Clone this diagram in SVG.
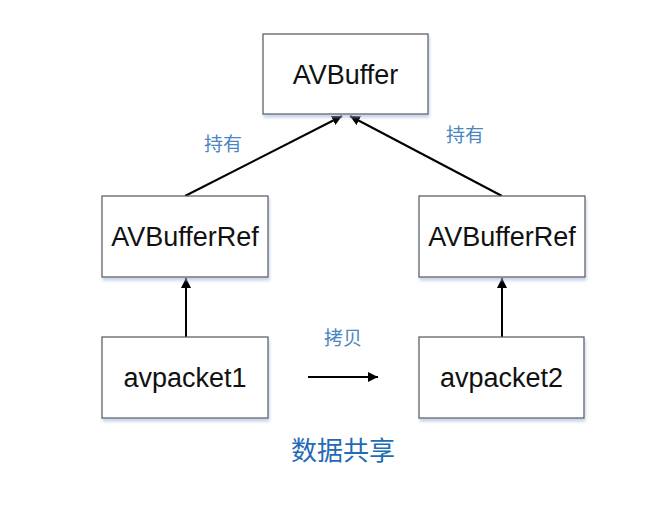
<svg xmlns="http://www.w3.org/2000/svg" width="671" height="506" viewBox="0 0 671 506">
<defs>
<marker id="ah" viewBox="0 0 10 10" refX="10" refY="5" markerWidth="10" markerHeight="10" markerUnits="userSpaceOnUse" orient="auto">
<path d="M0,0 L10,5 L0,10 z" fill="#000"/>
</marker>
<filter id="sh" x="-10%" y="-10%" width="130%" height="130%">
<feGaussianBlur in="SourceAlpha" stdDeviation="1.5"/>
<feOffset dx="1" dy="3" result="b"/>
<feFlood flood-color="#9db8d8" flood-opacity="0.6"/>
<feComposite in2="b" operator="in"/>
<feMerge><feMergeNode/><feMergeNode in="SourceGraphic"/></feMerge>
</filter>
</defs>
<style>
.box{fill:#fff;stroke:#555;stroke-width:1.2;filter:url(#sh)}
.t{font-family:"Liberation Sans",Arial,sans-serif;font-size:27px;fill:#111;text-anchor:middle}
.lbl{font-family:"Noto Sans CJK SC",sans-serif;font-size:19px;fill:#4a86c0;text-anchor:middle}
.cap{font-family:"Noto Sans CJK SC",sans-serif;font-size:26px;fill:#1f6bb5;text-anchor:middle}
.c{stroke:#000;stroke-width:2;fill:none;marker-end:url(#ah)}
</style>
<rect width="671" height="506" fill="#fff"/>
<g id="connectors">
<line class="c" x1="185" y1="196" x2="342" y2="116"/>
<line class="c" x1="502" y1="196" x2="350" y2="116"/>
<line class="c" x1="186" y1="337" x2="186" y2="278"/>
<line class="c" x1="502" y1="337" x2="502" y2="278"/>
<line class="c" x1="308" y1="377" x2="378" y2="377"/>
</g>
<g id="avbuffer">
<rect class="box" x="263" y="34" width="165" height="80"/>
<text class="t" x="345.5" y="84">AVBuffer</text>
</g>
<g id="ref1">
<rect class="box" x="102" y="196" width="166" height="81"/>
<text class="t" x="185" y="246">AVBufferRef</text>
</g>
<g id="ref2">
<rect class="box" x="419" y="196" width="166" height="81"/>
<text class="t" x="502" y="246">AVBufferRef</text>
</g>
<g id="pkt1">
<rect class="box" x="102" y="337" width="166" height="81"/>
<text class="t" x="185" y="387">avpacket1</text>
</g>
<g id="pkt2">
<rect class="box" x="419" y="337" width="165" height="81"/>
<text class="t" x="501.5" y="387">avpacket2</text>
</g>
<g id="labels">
<text class="lbl" x="223" y="151">持有</text>
<text class="lbl" x="465" y="142">持有</text>
<text class="lbl" x="343" y="345">拷贝</text>
<text class="cap" x="343" y="460">数据共享</text>
</g>
</svg>
